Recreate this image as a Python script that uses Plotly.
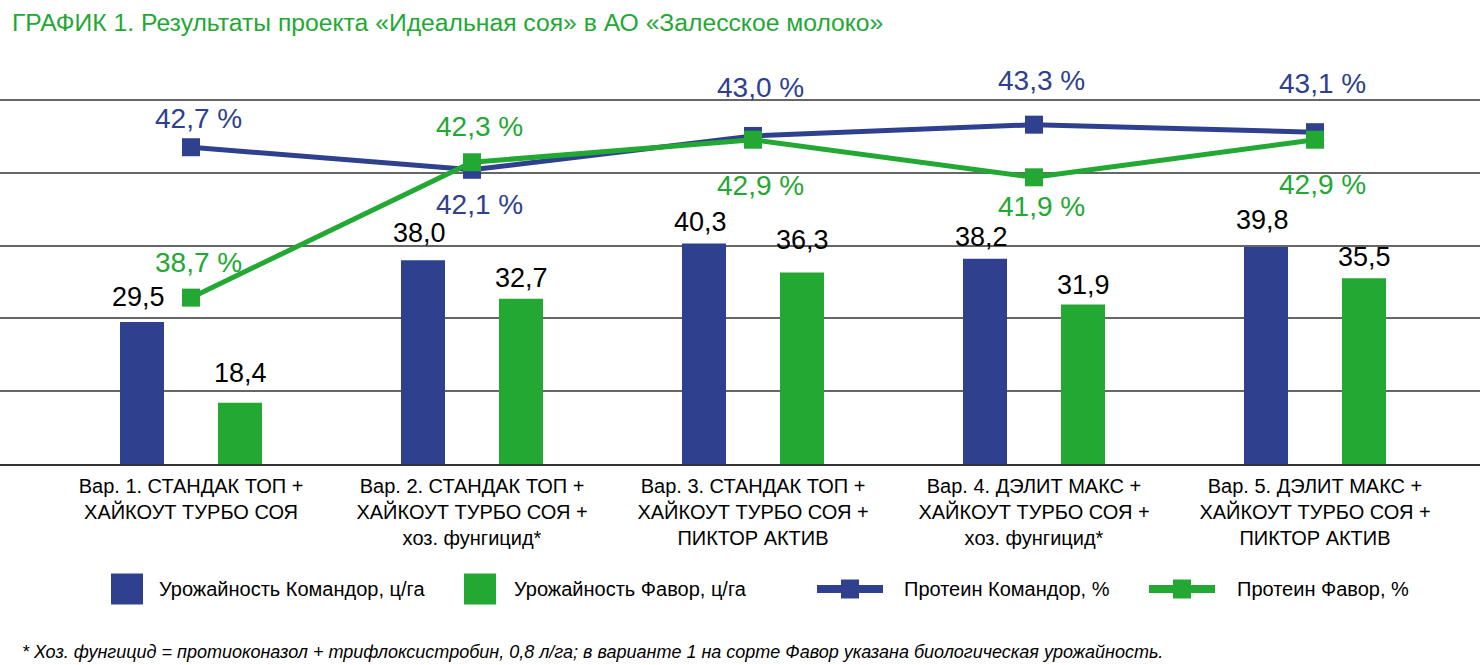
import plotly.graph_objects as go

# ---------------- data ----------------
categories = [
    "Вар. 1. СТАНДАК ТОП +<br>ХАЙКОУТ ТУРБО СОЯ",
    "Вар. 2. СТАНДАК ТОП +<br>ХАЙКОУТ ТУРБО СОЯ +<br>хоз. фунгицид*",
    "Вар. 3. СТАНДАК ТОП +<br>ХАЙКОУТ ТУРБО СОЯ +<br>ПИКТОР АКТИВ",
    "Вар. 4. ДЭЛИТ МАКС +<br>ХАЙКОУТ ТУРБО СОЯ +<br>хоз. фунгицид*",
    "Вар. 5. ДЭЛИТ МАКС +<br>ХАЙКОУТ ТУРБО СОЯ +<br>ПИКТОР АКТИВ",
]
yield_komandor = [29.5, 38.0, 40.3, 38.2, 39.8]
yield_favor = [18.4, 32.7, 36.3, 31.9, 35.5]
protein_komandor = [42.7, 42.1, 43.0, 43.3, 43.1]
protein_favor = [38.7, 42.3, 42.9, 41.9, 42.9]

series_names = [
    "Урожайность Командор, ц/га",
    "Урожайность Фавор, ц/га",
    "Протеин Командор, %",
    "Протеин Фавор, %",
]
title_text = "ГРАФИК 1. Результаты проекта «Идеальная соя» в АО «Залесское молоко»"
footnote_text = ("* Хоз. фунгицид = протиоконазол + трифлоксистробин, 0,8 л/га; "
                 "в варианте 1 на сорте Фавор указана биологическая урожайность.")

# ---------------- style ----------------
BLUE = "#2E408E"
GREEN = "#22A833"
FONT = "Liberation Sans, Arial, sans-serif"
W, H = 1480, 665
TOP, BOTTOM = 94, 464          # plot area in px
PX_PER_UNIT = 7.28             # left axis scale

# label placement offsets (px, positive = up)
bar_lab_k = [25, 27, 21, 22, 27]
bar_lab_f = [30, 21, 33, 20, 21]
prot_lab_k = [29, -35, 48, 44, 49]
prot_lab_f = [35, 36, -46, -29, -45]

def px(xp):
    return xp / W

def py(yp):
    return (BOTTOM - yp) / (BOTTOM - TOP)

xs = list(range(len(categories)))
BW = 0.1566
OFF = 0.1744

fig = go.Figure()
fig.add_trace(go.Bar(x=xs, y=yield_komandor, name=series_names[0], marker_color=BLUE,
                     marker_line_width=0, width=BW, offset=-OFF - BW / 2, yaxis="y"))
fig.add_trace(go.Bar(x=xs, y=yield_favor, name=series_names[1], marker_color=GREEN,
                     marker_line_width=0, width=BW, offset=OFF - BW / 2, yaxis="y"))
fig.add_trace(go.Scatter(x=xs, y=protein_komandor, name=series_names[2], mode="lines+markers",
                         line=dict(color=BLUE, width=5),
                         marker=dict(symbol="square", size=18, color=BLUE), yaxis="y2"))
fig.add_trace(go.Scatter(x=xs, y=protein_favor, name=series_names[3], mode="lines+markers",
                         line=dict(color=GREEN, width=5),
                         marker=dict(symbol="square", size=18, color=GREEN), yaxis="y2"))

def fmt(v, suffix=""):
    return f"{v:.1f}".replace(".", ",") + suffix

ann = []
for i in xs:
    ann.append(dict(x=i - OFF, y=yield_komandor[i], xref="x", yref="y", text=fmt(yield_komandor[i]),
                    showarrow=False, yanchor="middle", yshift=bar_lab_k[i], xshift=-3,
                    font=dict(size=27, color="black", family=FONT)))
    ann.append(dict(x=i + OFF, y=yield_favor[i], xref="x", yref="y", text=fmt(yield_favor[i]),
                    showarrow=False, yanchor="middle", yshift=bar_lab_f[i],
                    font=dict(size=27, color="black", family=FONT)))
    ann.append(dict(x=i, y=protein_komandor[i], xref="x", yref="y2", text=fmt(protein_komandor[i], " %"),
                    showarrow=False, yanchor="middle", yshift=prot_lab_k[i], xshift=7,
                    font=dict(size=28, color=BLUE, family=FONT)))
    ann.append(dict(x=i, y=protein_favor[i], xref="x", yref="y2", text=fmt(protein_favor[i], " %"),
                    showarrow=False, yanchor="middle", yshift=prot_lab_f[i], xshift=7,
                    font=dict(size=28, color=GREEN, family=FONT)))

# title & footnote
ann.append(dict(x=px(10), y=py(22), xref="paper", yref="paper", xanchor="left", yanchor="middle",
                text=title_text, showarrow=False, font=dict(size=24.7, color=GREEN, family=FONT)))
ann.append(dict(x=px(20), y=py(652), xref="paper", yref="paper", xanchor="left", yanchor="middle",
                text=f"<i>{footnote_text}</i>", showarrow=False, font=dict(size=18, color="black", family=FONT)))

# manual legend
shapes = []
LY = 589
legend_items = [
    ("bar", BLUE, 111, 143, 157, series_names[0]),
    ("bar", GREEN, 464, 496, 512, series_names[1]),
    ("line", BLUE, 813, 887, 902, series_names[2]),
    ("line", GREEN, 1145, 1219, 1235, series_names[3]),
]
for kind, col, x0, x1, tx, label in legend_items:
    if kind == "bar":
        shapes.append(dict(type="rect", xref="paper", yref="paper", x0=px(x0), x1=px(x1),
                           y0=py(LY - 15.5), y1=py(LY + 15.5), fillcolor=col, line=dict(width=0)))
    else:
        shapes.append(dict(type="line", xref="paper", yref="paper", x0=px(x0 + 4), x1=px(x1 - 4),
                           y0=py(LY), y1=py(LY), line=dict(color=col, width=8)))
        cx = (x0 + x1) / 2
        shapes.append(dict(type="rect", xref="paper", yref="paper", x0=px(cx - 9), x1=px(cx + 9),
                           y0=py(LY - 9.5), y1=py(LY + 9.5), fillcolor=col, line=dict(width=0)))
    ann.append(dict(x=px(tx), y=py(LY), xref="paper", yref="paper", xanchor="left", yanchor="middle",
                    text=label, showarrow=False, font=dict(size=20, color="black", family=FONT)))

xa = -191 / 281
y_top = 10 + (BOTTOM - TOP) / PX_PER_UNIT
# secondary axis: 37.6 px per % , anchored at 42.689 % -> 147.64 px
P_SCALE, P_REF, P_PX = 37.6, 42.689, 147.64
y2_top = P_REF + (P_PX - TOP) / P_SCALE
y2_bot = P_REF - (BOTTOM - P_PX) / P_SCALE

fig.update_layout(
    width=W, height=H,
    margin=dict(l=0, r=0, t=TOP, b=H - BOTTOM, pad=0),
    paper_bgcolor="white", plot_bgcolor="white",
    barmode="overlay",
    showlegend=False,
    font=dict(family=FONT, color="black"),
    xaxis=dict(range=[xa, xa + W / 281], tickmode="array", tickvals=xs, ticktext=categories,
               tickfont=dict(size=20, color="black", family=FONT), ticks="", showgrid=False,
               showline=True, linecolor="#333333", linewidth=2, zeroline=False,
               ticklabelstandoff=3),
    yaxis=dict(range=[10, y_top], tick0=10, dtick=10, showgrid=True, gridcolor="#666666", gridwidth=1.5,
               showticklabels=False, zeroline=False, ticks=""),
    yaxis2=dict(range=[y2_bot, y2_top], overlaying="y", side="right", showgrid=False,
                showticklabels=False, zeroline=False, ticks=""),
    annotations=ann,
    shapes=shapes,
)

fig.write_html("out.html")
